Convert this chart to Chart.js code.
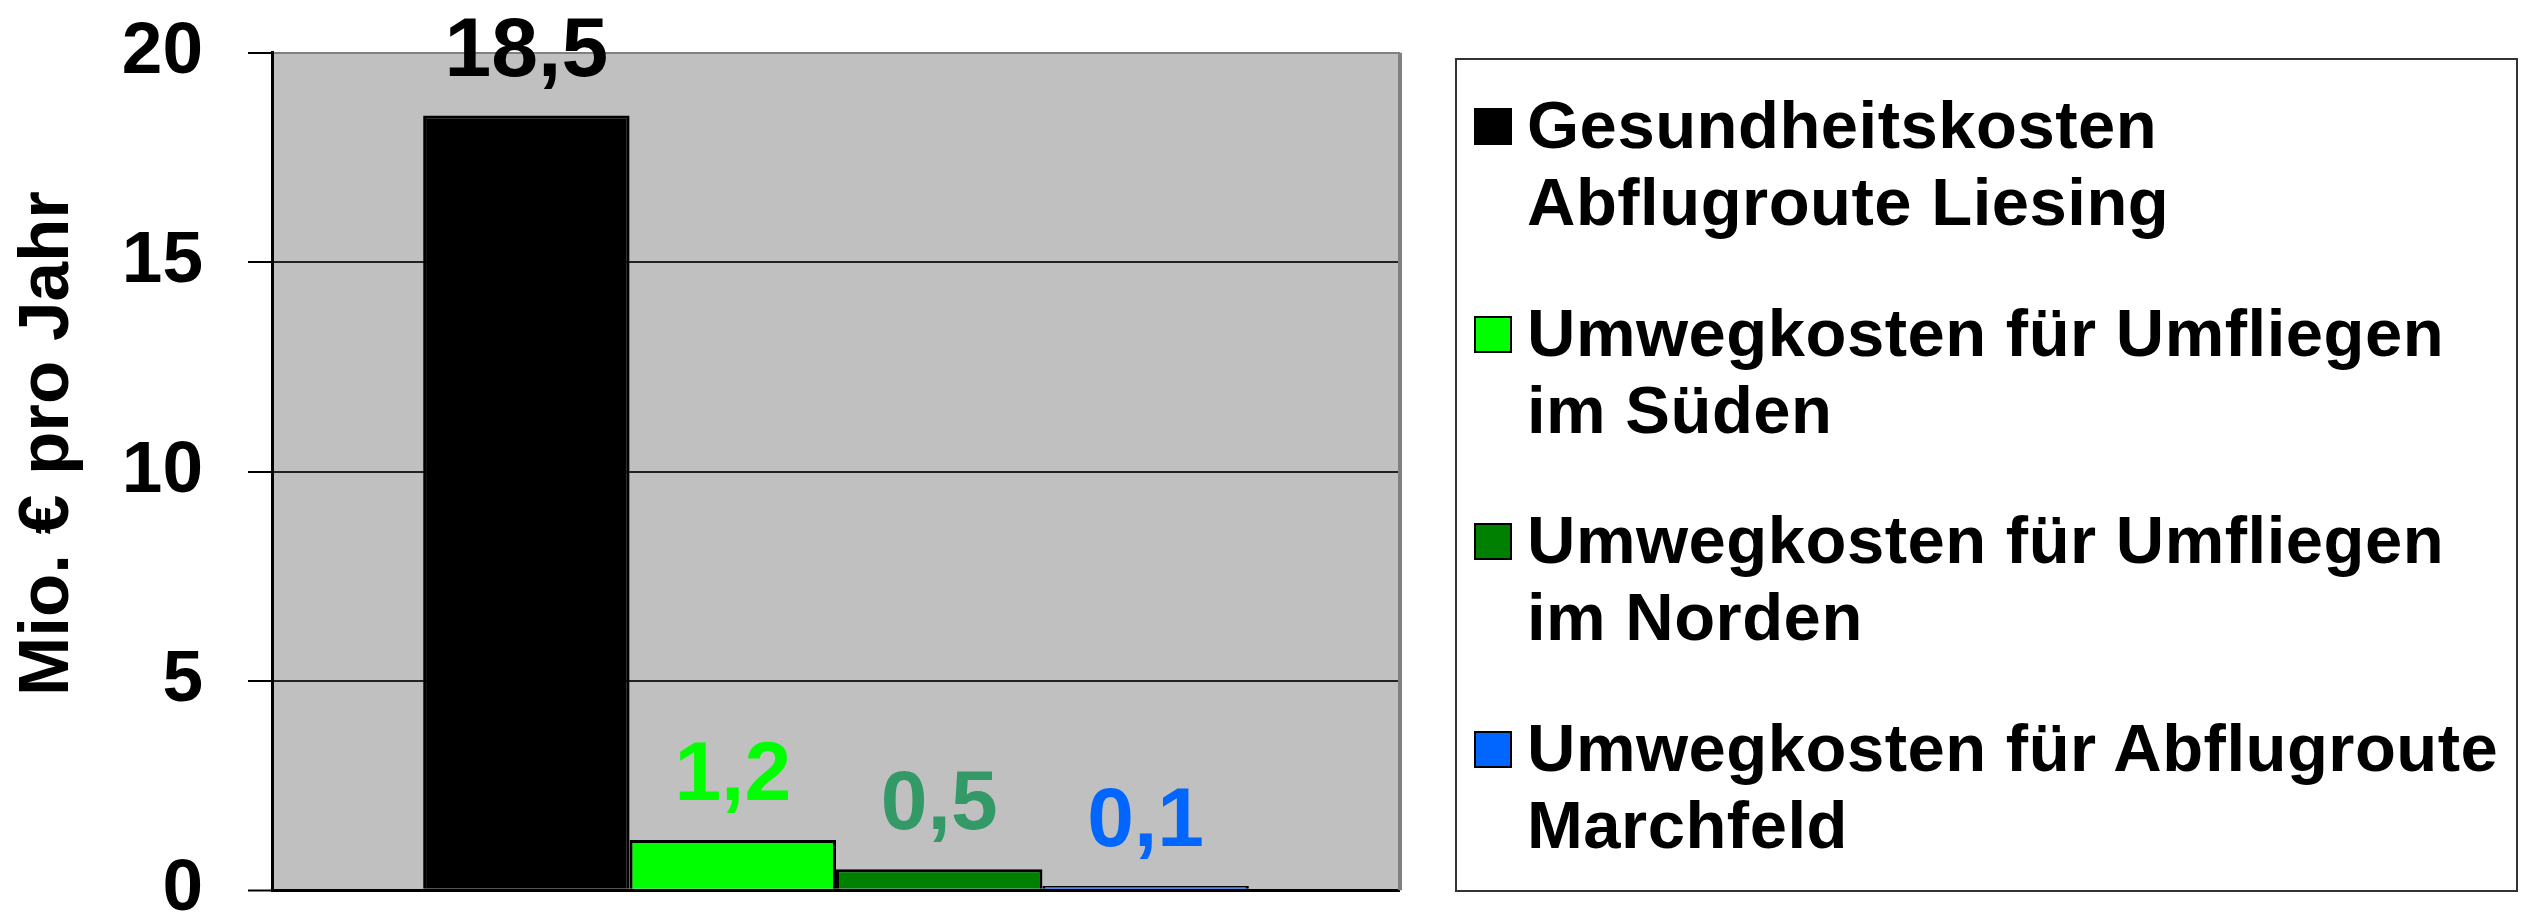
<!DOCTYPE html>
<html lang="de">
<head>
<meta charset="utf-8">
<title>Gesundheitskosten vs. Umwegkosten</title>
<script src="https://cdn.jsdelivr.net/npm/chart.js@4.4.1/dist/chart.umd.min.js"></script>
<style>
    html, body { margin: 0; padding: 0; width: 2534px; height: 913px; overflow: hidden; background: #fff; }
    #chartBox { position: absolute; left: 0; top: -36px; width: 1430px; height: 1015px; }
    #legend {
        position: absolute; left: 1455px; top: 58px; width: 1063px; height: 834px;
        box-sizing: border-box; border: 2px solid #333; padding-top: 26px;
        font-family: 'Liberation Sans', Arial, sans-serif; font-weight: bold; font-size: 67px;
        letter-spacing: 0.5px; line-height: 77px; color: #000; white-space: nowrap;
    }
    .entry { position: relative; padding-left: 70px; margin-bottom: 53.5px; }
    .swatch { position: absolute; left: 17px; top: 22px; width: 38px; height: 37px; box-sizing: border-box; border: 2px solid #000; }
</style>
</head>
<body>
<div id="chartBox"><canvas id="costChart"></canvas></div>
<div id="legend"></div>
<script>
// Kosten in Mio. € pro Jahr
const seriesNames = [
    ['Gesundheitskosten', 'Abflugroute Liesing'],
    ['Umwegkosten für Umfliegen', 'im Süden'],
    ['Umwegkosten für Umfliegen', 'im Norden'],
    ['Umwegkosten für Abflugroute', 'Marchfeld']
];
const seriesValues = [18.5, 1.2, 0.5, 0.1];
const barColors = ['#000000', '#00FF00', '#008000', '#0066FF'];
const labelColors = ['#000000', '#00FF00', '#339966', '#0066FF'];
const yAxisTitle = 'Mio. € pro Jahr';
const yMin = 0, yMax = 20, yStep = 5;

const FONT = "'Liberation Sans', Arial, sans-serif";

// grey plot area + right border
const plotBackground = {
    id: 'plotBackground',
    beforeDraw(chart) {
        const { ctx, chartArea: a } = chart;
        ctx.save();
        ctx.fillStyle = '#C0C0C0';
        ctx.fillRect(a.left, a.top, a.right - a.left, a.bottom - a.top);
        ctx.restore();
    },
    beforeDatasetsDraw(chart) {
        const { ctx, chartArea: a } = chart;
        ctx.save();
        ctx.strokeStyle = '#808080';
        ctx.lineWidth = 4;
        ctx.beginPath();
        ctx.moveTo(a.right, a.top);
        ctx.lineTo(a.right, a.bottom);
        ctx.stroke();
        ctx.restore();
    }
};

// value labels above the bars and the rotated y title
const valueLabels = {
    id: 'valueLabels',
    afterDatasetsDraw(chart) {
        const { ctx, chartArea: a } = chart;
        ctx.save();
        ctx.font = 'bold 84px ' + FONT;
        ctx.textAlign = 'center';
        ctx.textBaseline = 'alphabetic';
        chart.data.datasets.forEach((ds, i) => {
            const bar = chart.getDatasetMeta(i).data[0];
            ctx.fillStyle = labelColors[i];
            ctx.fillText(ds.data[0].toFixed(1).replace('.', ','), bar.x, bar.y - 40);
        });
        ctx.restore();

        ctx.save();
        ctx.translate(48, (a.top + a.bottom) / 2 - 28);
        ctx.rotate(-Math.PI / 2);
        ctx.font = 'bold 71px ' + FONT;
        ctx.fillStyle = '#000';
        ctx.textAlign = 'center';
        ctx.textBaseline = 'middle';
        ctx.fillText(yAxisTitle, 0, 0);
        ctx.restore();
    }
};

new Chart(document.getElementById('costChart'), {
    type: 'bar',
    data: {
        labels: [''],
        datasets: seriesValues.map((v, i) => ({
            label: seriesNames[i].join(' '),
            data: [v],
            backgroundColor: barColors[i],
            borderColor: '#000000',
            borderWidth: 3
        }))
    },
    options: {
        responsive: true,
        maintainAspectRatio: false,
        animation: false,
        categoryPercentage: 0.732,
        barPercentage: 1,
        layout: { padding: { left: 0, top: 0, right: 30, bottom: 0 } },
        plugins: {
            legend: { display: false },
            tooltip: { enabled: false }
        },
        scales: {
            x: { display: false },
            y: {
                min: yMin,
                max: yMax,
                afterFit: scale => { scale.width = 272; },
                ticks: {
                    stepSize: yStep,
                    color: '#000',
                    padding: 45,
                    font: { family: FONT, size: 73, weight: 'bold' }
                },
                grid: {
                    color: c => c.tick.value === yMax ? '#808080' : (c.tick.value === 0 ? '#000' : '#222'),
                    lineWidth: c => c.tick.value === 0 ? 3 : 2,
                    tickLength: 24,
                    tickColor: '#000',
                    tickWidth: 2
                },
                border: { color: '#000', width: 3 }
            }
        }
    },
    plugins: [plotBackground, valueLabels]
});

// legend with two-line labels
const legend = document.getElementById('legend');
seriesNames.forEach((lines, i) => {
    const entry = document.createElement('div');
    entry.className = 'entry';
    const swatch = document.createElement('span');
    swatch.className = 'swatch';
    swatch.style.background = barColors[i];
    entry.appendChild(swatch);
    lines.forEach(t => {
        const line = document.createElement('div');
        line.textContent = t;
        entry.appendChild(line);
    });
    legend.appendChild(entry);
});
</script>
</body>
</html>
